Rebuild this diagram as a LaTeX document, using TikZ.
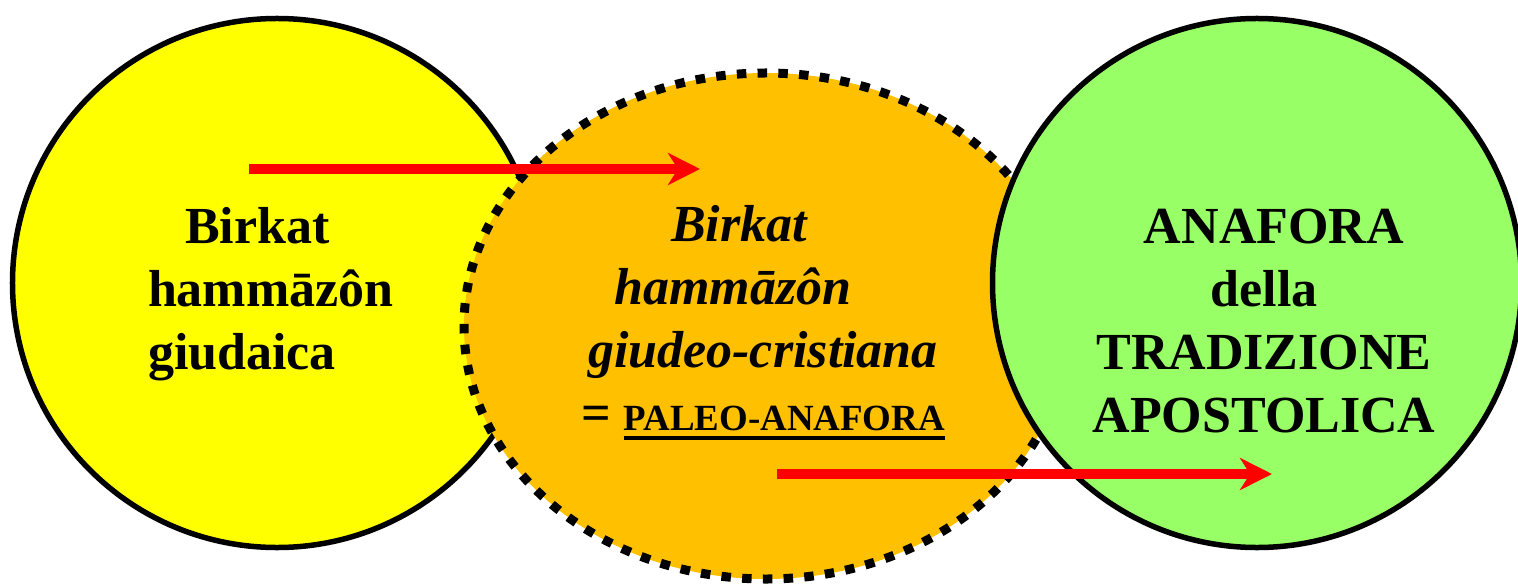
\documentclass[tikz,border=0pt]{standalone}
\usepackage{fontspec}
\setmainfont{Liberation Serif}
\usetikzlibrary{arrows.meta,
                shapes.geometric}

\definecolor{tradyellow}{HTML}{FFFF00}
\definecolor{tradorange}{HTML}{FFC000}
\definecolor{tradgreen}{HTML}{99FF66}
\newcommand{\thickul}[1]{\vtop{\hbox{#1}\kern3.2pt\hrule height 2.4pt}}

\begin{document}
\begin{tikzpicture}[
x=0.2mm, y=-0.2mm,
every node/.style = {inner sep=0pt, outer sep=0pt},
ring/.style  = {circle, draw, line width=1.1mm, minimum size=105.8mm},
words/.style = {font=\fontsize{29.6}{35.85}\selectfont\bfseries},
iwords/.style = {font=\fontsize{29.6}{35.85}\selectfont\bfseries\itshape},
arr/.style   = {draw=red, line width=2mm,
                -{Stealth[length=6.4mm, width=6.4mm, inset=2mm]}}
                        ]
    \useasboundingbox (0,0) rectangle (1518,587);
    % the three stages
    \node (giud) [ring, fill=tradyellow] at (277,283) {};
    \node (paleo) [ellipse, draw, fill=tradorange, line width=1.8mm,
                   dash pattern=on 1.9mm off 2.25mm,
                   minimum width=120.8mm, minimum height=101.2mm] at (766,326) {};
    \node (apost) [ring, fill=tradgreen] at (1257,283) {};

    \node (tgiud) [words, align=left, anchor=base west] at (148,369)
          {\hspace*{7.4mm}Birkat\\ hammāzôn\\ giudaica};
    \node (tpaleo) [iwords, align=center, anchor=base] at (763,430)
          {Birkat\hspace*{9.6mm}\mbox{}\\ hammāzôn\hspace*{12mm}\mbox{}\\ giudeo-cristiana\\
           \upshape = {\fontsize{21}{35.85}\selectfont\thickul{PALEO-ANAFORA}}};
    \node (tapost) [words, align=center, anchor=base] at (1264,432)
          {\hspace*{4mm}ANAFORA\\ della\\ TRADIZIONE\\ APOSTOLICA};

    % transitions
    \coordinate (a1) at (249,169);
    \coordinate (b1) at (700,169);
    \coordinate (a2) at (777,474);
    \coordinate (b2) at (1272,474);
    \draw[arr] (a1) -- (b1);
    \draw[arr] (a2) -- (b2);
\end{tikzpicture}
\end{document}
